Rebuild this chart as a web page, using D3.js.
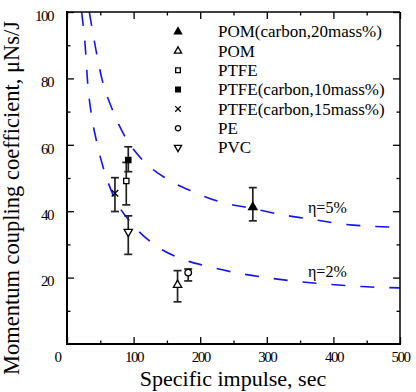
<!DOCTYPE html>
<html>
<head>
<meta charset="utf-8">
<script src="https://cdn.jsdelivr.net/npm/d3@7"></script>
<style>
    body { margin: 0; background: #fff; }
</style>
</head>
<body>
<svg id="chart"></svg>
<script>
const width = 416;
const height = 392;
const serif = '"Liberation Serif", "Times New Roman", Times, serif';

// measured points
const series = ['POM(carbon,20mass%)', 'POM', 'PTFE', 'PTFE(carbon,10mass%)', 'PTFE(carbon,15mass%)', 'PE', 'PVC'];
const isp = [279, 166, 89, 92, 72, 182, 92];
const cm = [41.2, 17.8, 49.1, 55.4, 45.4, 21.5, 33.8];
const errHi = [47.1, 22.1, 54.7, 59.4, 50.1, 22.6, 38.6];
const errLo = [37.1, 12.7, 41.9, 51.9, 39.9, 19.0, 27.0];

// efficiency curves
const eta5Isp = [33.5, 35.6, 43.8, 52.6, 67.1, 86.5, 112, 150, 190, 230, 276, 324, 369, 415, 463, 500];
const eta5Cm = [100, 97.5, 88.2, 79.7, 71.1, 62.7, 55.7, 49.7, 45.8, 42.8, 40.9, 38.9, 37.5, 36.1, 35.4, 35.2];
const eta2Isp = [22, 24.5, 27, 28.5, 30.5, 35.8, 44, 54.6, 71, 95.8, 130, 170, 215, 258, 303, 348, 393, 441, 500];
const eta2Cm = [100, 95.6, 90.6, 86.5, 80, 70.2, 61.4, 53, 44.1, 36.6, 30.1, 25.8, 23.2, 21.3, 19.9, 18.8, 18.0, 17.3, 16.9];
const curveLabels = ['η=5%', 'η=2%'];

const xMajor = [0, 100, 200, 300, 400, 500];
const xMinor = [50, 150, 250, 350, 450];
const yMajor = [20, 40, 60, 80, 100];
const yMinor = [10, 30, 50, 70, 90];

const svg = d3.select('#chart')
    .attr('width', width)
    .attr('height', height)
    .style('font-family', serif);

const x = d3.scaleLinear().domain([0, 500]).range([67, 400]);
const y = d3.scaleLinear().domain([0, 100]).range([344, 12]);

svg.append('clipPath').attr('id', 'plot-clip')
    .append('rect')
    .attr('x', x(0)).attr('y', y(100))
    .attr('width', x(500) - x(0)).attr('height', y(0) - y(100));

// curves
const line = d3.line().x(d => x(d[0])).y(d => y(d[1])).curve(d3.curveMonotoneX);
const curves = [d3.zip(eta5Isp, eta5Cm), d3.zip(eta2Isp, eta2Cm)];
svg.append('g').attr('clip-path', 'url(#plot-clip)')
    .selectAll('path').data(curves).enter().append('path')
    .attr('d', line)
    .attr('fill', 'none')
    .attr('stroke', '#1414f0')
    .attr('stroke-width', 1.6)
    .attr('stroke-dasharray', '14,15');

svg.selectAll('.eta').data(curveLabels).enter().append('text')
    .attr('class', 'eta')
    .attr('x', 308)
    .attr('y', (d, i) => [213, 277][i])
    .style('font-family', serif)
    .style('font-size', '16px')
    .text(d => d);

// axes, ticks pointing inward
function addAxis(axis, transform, values, size, labels) {
    const g = svg.append('g').attr('transform', transform)
        .call(axis.tickValues(values).tickSizeInner(-size).tickSizeOuter(0));
    if (!labels) g.selectAll('text').remove();
    g.select('.domain').remove();
    g.selectAll('line').attr('stroke', '#000').attr('stroke-width', 1.3);
    g.selectAll('text')
        .style('font-family', serif)
        .style('font-size', '15px')
        .style('letter-spacing', '-1.5px')
        .attr('fill', '#000');
    return g;
}

const xAxisG = addAxis(d3.axisBottom(x).tickPadding(7).tickFormat(d => d), `translate(0,${y(0)})`, xMajor, 7, true);
xAxisG.selectAll('text').filter(d => d === 0).attr('x', -10);
addAxis(d3.axisBottom(x), `translate(0,${y(0)})`, xMinor, 3.5, false);
addAxis(d3.axisTop(x), `translate(0,${y(100)})`, xMajor, 7, false);
addAxis(d3.axisTop(x), `translate(0,${y(100)})`, xMinor, 3.5, false);

const yAxisG = addAxis(d3.axisLeft(y).tickPadding(14).tickFormat(d => d), `translate(${x(0)},0)`, yMajor, 7, true);
yAxisG.selectAll('text').attr('dy', '0.55em');
addAxis(d3.axisLeft(y), `translate(${x(0)},0)`, yMinor, 3.5, false);
addAxis(d3.axisRight(y), `translate(${x(500)},0)`, yMajor, 7, false);
addAxis(d3.axisRight(y), `translate(${x(500)},0)`, yMinor, 3.5, false);

// frame
svg.append('line').attr('x1', x(0)).attr('x2', x(0)).attr('y1', y(100) - 1).attr('y2', y(0) + 1)
    .attr('stroke', '#000').attr('stroke-width', 2);
svg.append('line').attr('x1', x(0) - 1).attr('x2', x(500) + 1).attr('y1', y(0)).attr('y2', y(0))
    .attr('stroke', '#000').attr('stroke-width', 2);
svg.append('line').attr('x1', x(0)).attr('x2', x(500)).attr('y1', y(100)).attr('y2', y(100))
    .attr('stroke', '#000').attr('stroke-width', 1.5);
svg.append('line').attr('x1', x(500)).attr('x2', x(500)).attr('y1', y(100)).attr('y2', y(0))
    .attr('stroke', '#000').attr('stroke-width', 1.5);

// axis titles
svg.append('text')
    .attr('x', 233).attr('y', 386)
    .attr('text-anchor', 'middle')
    .style('font-family', serif)
    .style('font-size', '22px')
    .text('Specific impulse, sec');

svg.append('text')
    .attr('transform', 'translate(19,198) rotate(-90)')
    .attr('text-anchor', 'middle')
    .style('font-family', serif)
    .style('font-size', '22.5px')
    .text('Momentum coupling coefficient, μNs/J');

// marker styles by series index
const markers = [
    {type: d3.symbolTriangle, fill: '#000', rot: 0},
    {type: d3.symbolTriangle, fill: '#fff', rot: 0},
    {type: d3.symbolSquare, fill: '#fff', rot: 0},
    {type: d3.symbolSquare, fill: '#000', rot: 0},
    {type: d3.symbolTimes, fill: 'none', rot: 0},
    {type: d3.symbolCircle, fill: '#fff', rot: 0},
    {type: d3.symbolTriangle, fill: '#fff', rot: 180}
];
const markerSize = [30, 30, 28, 28, 30, 34, 30];

const points = series.map((s, i) => ({name: s, x: isp[i], y: cm[i], lo: errLo[i], hi: errHi[i], i: i}));

const bars = svg.append('g').selectAll('g').data(points).enter().append('g')
    .attr('stroke', '#222').attr('stroke-width', 1.7);
bars.append('line')
    .attr('x1', d => x(d.x)).attr('x2', d => x(d.x))
    .attr('y1', d => y(d.lo)).attr('y2', d => y(d.hi));
bars.append('line')
    .attr('x1', d => x(d.x) - 4).attr('x2', d => x(d.x) + 4)
    .attr('y1', d => y(d.lo)).attr('y2', d => y(d.lo));
bars.append('line')
    .attr('x1', d => x(d.x) - 4).attr('x2', d => x(d.x) + 4)
    .attr('y1', d => y(d.hi)).attr('y2', d => y(d.hi));

svg.append('g').selectAll('path').data(points).enter().append('path')
    .attr('transform', d => `translate(${x(d.x)},${y(d.y)}) rotate(${markers[d.i].rot})`)
    .attr('d', d => d3.symbol().type(markers[d.i].type).size(markerSize[d.i])())
    .attr('fill', d => markers[d.i].fill)
    .attr('stroke', '#000')
    .attr('stroke-width', 1.3);

// legend
const legend = svg.append('g').selectAll('g').data(points).enter().append('g')
    .attr('transform', (d, i) => `translate(178,${31.7 + i * 19.3})`);
legend.append('path')
    .attr('transform', d => `rotate(${markers[d.i].rot})`)
    .attr('d', d => d3.symbol().type(markers[d.i].type).size(22)())
    .attr('fill', d => markers[d.i].fill)
    .attr('stroke', '#000')
    .attr('stroke-width', 1.3);
legend.append('text')
    .attr('x', 40).attr('y', 5.7)
    .style('font-family', serif)
    .style('font-size', '17px')
    .text(d => d.name);
</script>
</body>
</html>
